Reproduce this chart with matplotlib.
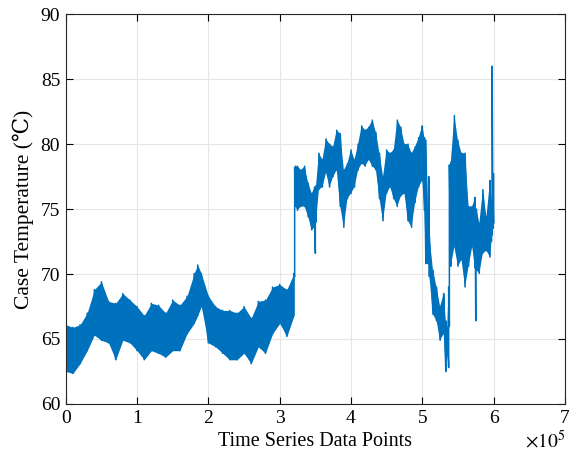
import numpy as np
import matplotlib
matplotlib.use("Agg")
import matplotlib.pyplot as plt

# envelope of the recorded case temperature, x in units of 1e5 samples
x_steady = [0.00, 0.10, 0.20, 0.30, 0.40, 0.50, 0.60, 0.70, 0.80, 0.90,
            1.00, 1.10, 1.20, 1.30, 1.40, 1.50, 1.60, 1.70, 1.80, 1.85,
            1.90, 2.00, 2.10, 2.20, 2.30, 2.40, 2.50, 2.60, 2.70, 2.80,
            2.90, 3.00, 3.10, 3.20]
lo_steady = [62.5, 62.35, 63.1, 64.1, 65.3, 64.9, 64.7, 63.4, 64.9, 64.7,
             64.1, 63.4, 64.1, 63.9, 63.6, 64.1, 64.1, 65.4, 66.2, 66.8,
             67.5, 64.7, 64.4, 63.9, 63.4, 63.4, 63.9, 63.1, 64.4, 63.9,
             65.4, 66.2, 65.2, 66.8]
hi_steady = [66.1, 65.9, 66.1, 67.0, 68.8, 69.4, 67.9, 67.75, 68.5, 68.0,
             67.5, 66.8, 67.75, 67.6, 67.0, 68.0, 67.6, 68.3, 70.05, 70.7,
             70.05, 68.3, 67.5, 67.2, 67.2, 67.0, 67.5, 66.6, 67.9, 68.0,
             69.0, 69.2, 68.8, 70.05]

x_load = [3.21, 3.22, 3.25, 3.30, 3.35, 3.40, 3.45, 3.49, 3.50, 3.51,
          3.55, 3.60, 3.65, 3.70, 3.75, 3.80, 3.85, 3.90, 3.95, 4.00,
          4.05, 4.10, 4.15, 4.20, 4.25, 4.30, 4.35, 4.40, 4.45, 4.50,
          4.55, 4.60, 4.65, 4.70, 4.75, 4.80, 4.85, 4.90, 4.95, 5.00,
          5.03, 5.05, 5.08, 5.09, 5.10, 5.15, 5.20, 5.25, 5.30, 5.33,
          5.35, 5.37, 5.38, 5.40, 5.45, 5.50, 5.55, 5.60, 5.65, 5.70,
          5.74, 5.75, 5.76, 5.80, 5.85, 5.90, 5.95, 5.97, 5.98, 5.99,
          6.00]
lo_load = [69.8, 75.2, 74.9, 75.2, 75.2, 74.4, 73.4, 73.6, 71.6, 74.0,
           76.5, 76.7, 77.8, 76.7, 77.5, 78.0, 75.2, 73.6, 75.8, 76.2,
           76.7, 78.0, 78.5, 78.3, 78.8, 78.3, 78.0, 75.8, 74.1, 76.2,
           76.7, 75.8, 75.2, 76.0, 76.2, 74.1, 73.6, 75.5, 76.7, 77.2,
           74.9, 70.8, 70.8, 71.0, 69.8, 66.9, 66.4, 64.9, 65.4, 62.5,
           63.8, 62.8, 66.0, 70.6, 72.1, 70.6, 71.1, 69.0, 70.6, 72.1,
           70.5, 66.4, 70.3, 70.05, 71.6, 71.8, 71.3, 72.5, 73.0, 73.5,
           73.9]
hi_load = [78.2, 78.3, 78.3, 78.0, 78.3, 77.0, 76.2, 76.7, 76.5, 76.8,
           79.3, 78.8, 80.4, 80.0, 79.8, 81.07, 80.8, 78.0, 78.5, 79.55,
           78.8, 80.0, 81.4, 81.07, 81.3, 81.85, 80.9, 79.3, 77.5, 79.55,
           79.3, 79.55, 81.85, 81.3, 80.0, 80.0, 79.3, 79.8, 80.5, 81.4,
           80.5, 80.3, 74.7, 77.5, 72.9, 70.3, 69.0, 67.5, 68.5, 66.4,
           65.9, 69.0, 78.4, 78.6, 82.2, 80.3, 79.3, 79.3, 75.2, 75.2,
           75.9, 74.5, 75.0, 73.9, 76.5, 74.4, 77.2, 75.5, 86.0, 76.5,
           77.7]
# single-sample excursions (drawn as thin strokes, not filled)
spikes = [3.21, 3.50, 5.09, 5.38, 5.75, 5.98]

xtick_labels = ['0', '1', '2', '3', '4', '5', '6', '7']

plt.rcParams['font.family'] = ['Liberation Serif', 'DejaVu Serif']
plt.rcParams['mathtext.fontset'] = 'stix'

blue = '#0072BD'
fig = plt.figure(figsize=(5.77, 4.58), dpi=100)
ax = fig.add_axes([0.114, 0.118, 0.865, 0.851])

xs = np.array(x_steady) * 1e5
ax.fill_between(xs, lo_steady, hi_steady, color=blue, lw=0)

xl = np.array(x_load) * 1e5
solid = ~np.isin(np.array(x_load), spikes)
ax.fill_between(xl, lo_load, hi_load, where=solid, color=blue, lw=0)

# zigzag between the lower and upper envelope so the trace looks dense
xa = np.array(x_steady + x_load) * 1e5
lo = lo_steady + lo_load
hi = hi_steady + hi_load
zx = np.repeat(xa, 2)
zy = np.empty(2 * len(xa))
zy[0::2] = lo
zy[1::2] = hi
ax.plot(zx, zy, color=blue, lw=1.1)

ax.set_xlim(0, 7e5)
ax.set_ylim(60, 90)
ax.set_xticks(np.arange(8) * 1e5)
ax.set_xticklabels(xtick_labels)
ax.set_yticks(np.arange(60, 91, 5))
ax.grid(True, color='#e6e6e6', lw=0.8)
ax.set_axisbelow(True)
ax.tick_params(direction='in', labelsize=14, length=5, width=0.8,
               top=True, right=True, pad=4)
for s in ax.spines.values():
    s.set_linewidth(0.8)
    s.set_color('#262626')

ax.set_xlabel('Time Series Data Points', fontsize=14.5, labelpad=4)
ax.set_ylabel('Case Temperature (\u2103)', fontsize=15.5, labelpad=5)
ax.text(1.0, -0.095, r'$\times10^5$', transform=ax.transAxes,
        ha='right', va='center', fontsize=14)

fig.savefig('out.png', dpi=100)
